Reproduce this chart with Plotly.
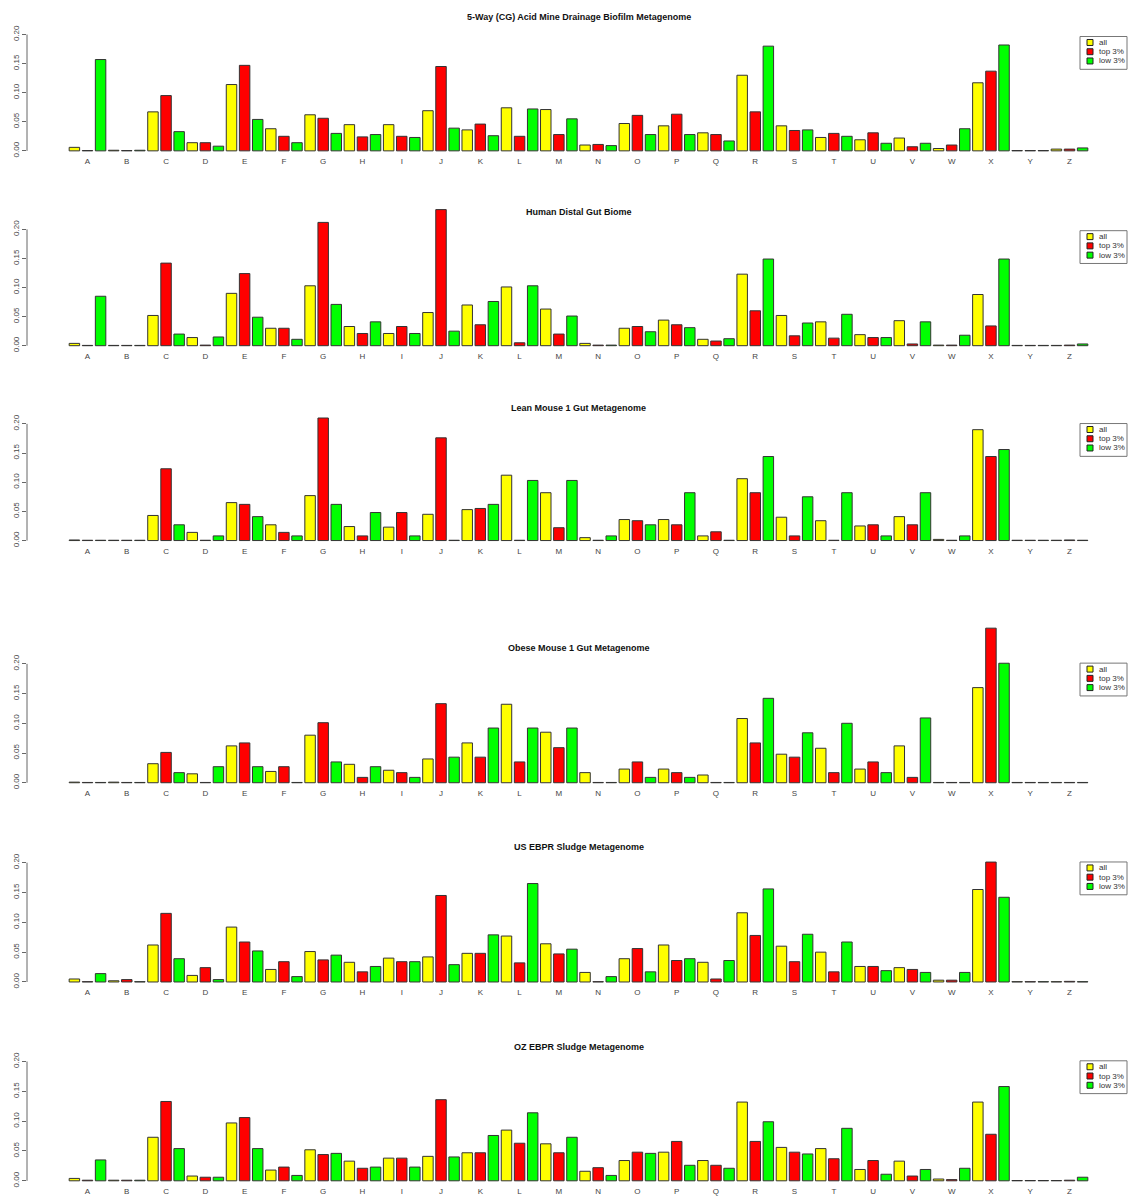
import plotly.graph_objects as go

W, H = 1131, 1202
letters = list("ABCDEFGHIJKLMNOPQRSTUVWXYZ")
series_names = ["all", "top 3%", "low 3%"]
series_colors = ["#FFFF00", "#FF0000", "#00FF00"]

titles = [
    "5-Way (CG) Acid Mine Drainage Biofilm Metagenome",
    "Human Distal Gut Biome",
    "Lean Mouse 1 Gut Metagenome",
    "Obese Mouse 1 Gut Metagenome",
    "US EBPR Sludge Metagenome",
    "OZ EBPR Sludge Metagenome",
]

amd_all = [.006, .001, .067, .014, .114, .038, .062, .045, .045, .069, .036, .074, .071, .010, .047, .043, .031, .130, .043, .023, .019, .022, .004, .117, .0005, .003]
amd_top = [.0005, .0005, .095, .014, .147, .025, .056, .024, .025, .145, .046, .025, .028, .011, .061, .063, .028, .067, .035, .030, .031, .007, .010, .137, .0005, .003]
amd_low = [.157, .001, .033, .008, .054, .014, .030, .028, .023, .039, .026, .072, .055, .009, .028, .028, .017, .180, .036, .025, .013, .013, .038, .182, .0005, .005]

hdg_all = [.004, .0005, .052, .014, .090, .030, .103, .033, .021, .057, .070, .101, .063, .004, .030, .044, .011, .123, .052, .041, .019, .043, .001, .088, .0005, .0005]
hdg_top = [.0005, .0005, .142, .001, .124, .030, .212, .021, .033, .234, .036, .005, .020, .001, .033, .036, .008, .060, .017, .013, .014, .003, .001, .034, .0005, .001]
hdg_low = [.085, .0005, .020, .015, .049, .011, .071, .041, .021, .025, .076, .103, .051, .001, .024, .031, .012, .149, .039, .054, .014, .041, .018, .149, .0005, .003]

lean_all = [.001, .0005, .043, .014, .065, .027, .077, .024, .023, .045, .053, .112, .082, .005, .036, .036, .008, .106, .040, .034, .025, .041, .002, .190, .0005, .0005]
lean_top = [.0005, .0005, .123, .0005, .062, .014, .210, .008, .048, .176, .055, .0005, .022, .0005, .034, .027, .015, .082, .008, .0005, .027, .027, .0005, .144, .0005, .001]
lean_low = [.0005, .0005, .027, .008, .041, .008, .062, .048, .008, .0005, .062, .103, .103, .008, .027, .082, .0005, .144, .075, .082, .008, .082, .008, .156, .0005, .0005]

obese_all = [.001, .001, .032, .015, .062, .019, .080, .031, .021, .040, .067, .132, .085, .017, .023, .023, .013, .108, .048, .058, .023, .062, .0005, .160, .0005, .0005]
obese_top = [.0005, .0005, .051, .0005, .067, .027, .101, .009, .017, .133, .043, .035, .059, .0005, .035, .017, .0005, .067, .043, .017, .035, .009, .0005, .260, .0005, .0005]
obese_low = [.0005, .0005, .017, .027, .027, .0005, .035, .027, .009, .043, .092, .092, .092, .0005, .009, .009, .0005, .142, .084, .100, .017, .109, .0005, .201, .0005, .0005]

us_all = [.005, .002, .062, .011, .092, .021, .051, .033, .040, .042, .048, .077, .064, .016, .039, .062, .033, .116, .060, .050, .026, .024, .003, .155, .0005, .0005]
us_top = [.0005, .004, .115, .024, .067, .034, .037, .017, .034, .145, .048, .032, .047, .0005, .056, .036, .005, .078, .034, .017, .026, .021, .003, .201, .0005, .001]
us_low = [.014, .0005, .039, .004, .052, .009, .045, .026, .034, .029, .079, .165, .055, .009, .017, .039, .036, .156, .080, .067, .019, .016, .016, .142, .0005, .0005]

oz_all = [.004, .001, .073, .008, .097, .018, .052, .033, .038, .041, .047, .085, .062, .016, .034, .048, .034, .132, .056, .054, .019, .033, .003, .132, .0005, .0005]
oz_top = [.001, .001, .133, .006, .106, .023, .044, .021, .038, .136, .047, .063, .047, .022, .048, .066, .026, .066, .048, .037, .034, .008, .002, .078, .0005, .001]
oz_low = [.035, .001, .054, .006, .054, .009, .046, .023, .023, .040, .076, .114, .073, .009, .046, .026, .021, .099, .045, .088, .011, .019, .021, .158, .0005, .006]

panels = [
    (amd_all, amd_top, amd_low),
    (hdg_all, hdg_top, hdg_low),
    (lean_all, lean_top, lean_low),
    (obese_all, obese_top, obese_low),
    (us_all, us_top, us_low),
    (oz_all, oz_top, oz_low),
]

y_ticks = [0.0, 0.05, 0.10, 0.15, 0.20]
y_ticktext = ["0.00", "0.05", "0.10", "0.15", "0.20"]

# layout geometry in pixels: (zero line y, px per 0.2, domain top, title y, legend top)
geom = [
    (147.7, 117.0, 25, 13.0, 32.7),
    (343.7, 117.0, 200, 209.0, 228.0),
    (539.7, 117.4, 415, 406.0, 422.0),
    (783.3, 119.6, 620, 648.0, 663.0),
    (983.7, 120.0, 855, 848.0, 863.0),
    (1183.7, 120.0, 1055, 1048.7, 1063.0),
]

def py(p):
    return 1 - p / H

def px(p):
    return p / W

fig = go.Figure()
layout = dict(
    width=W, height=H, margin=dict(l=0, r=0, t=0, b=0),
    paper_bgcolor="white", plot_bgcolor="white",
    barmode="group", bargap=0.0, bargroupgap=0.2,
    showlegend=False,
    font=dict(family="Liberation Sans, Arial, sans-serif", size=8, color="#444"),
)
shapes = []
annotations = []
axis_color = "#666"

x_left, x_right = 27, 1130
for i, (vals, (y0, s, top, ty, ly)) in enumerate(zip(panels, geom)):
    n = "" if i == 0 else str(i + 1)
    xa, ya = "x" + n, "y" + n
    for name, color, v in zip(series_names, series_colors, vals):
        fig.add_trace(go.Bar(
            x=letters, y=v, name=name, xaxis=xa, yaxis=ya,
            marker=dict(color=color, line=dict(color="#333", width=1)),
            showlegend=False,
        ))
    k = s / 0.2
    bottom = y0 + 4
    yr = [-(bottom - y0) / k, (y0 - top) / k]
    layout["xaxis" + n] = dict(
        domain=[px(x_left), px(x_right)], anchor=ya,
        type="category", range=[-1.54, 26.54],
        showgrid=False, zeroline=False, showline=False,
        ticks="",
        tickfont=dict(size=8, color="#444"), fixedrange=True,
    )
    layout["yaxis" + n] = dict(
        domain=[py(bottom), py(top)], anchor=xa, range=yr,
        showgrid=False, zeroline=False, showline=False,
        tickvals=y_ticks, ticktext=y_ticktext, tickangle=-90,
        ticks="outside", ticklen=4, tickcolor=axis_color,
        tickfont=dict(size=8, color="#444"), fixedrange=True,
    )
    shapes.append(dict(type="line", xref=xa + " domain", yref=ya,
                       x0=0, x1=0, y0=0, y1=0.2,
                       line=dict(color=axis_color, width=1)))
    annotations.append(dict(text="<b>" + titles[i] + "</b>", xref="paper", yref="paper",
                            x=px((x_left + x_right) / 2), y=py(ty), showarrow=False,
                            xanchor="center", yanchor="middle",
                            font=dict(size=9, color="#111")))
    # legend box
    bx0, bx1 = 1080, 1127
    shapes.append(dict(type="rect", xref="paper", yref="paper",
                       x0=px(bx0), x1=px(bx1), y0=py(ly + 33), y1=py(ly),
                       line=dict(color="#777", width=1), fillcolor="white"))
    for j, (name, color) in enumerate(zip(series_names, series_colors)):
        cy = ly + 6 + j * 9.3
        shapes.append(dict(type="rect", xref="paper", yref="paper",
                           x0=px(1087), x1=px(1093), y0=py(cy + 3), y1=py(cy - 3),
                           line=dict(color="#222", width=1), fillcolor=color))
        annotations.append(dict(text=name, xref="paper", yref="paper",
                                x=px(1097), y=py(cy), showarrow=False,
                                xanchor="left", yanchor="middle",
                                font=dict(size=8, color="#333")))

layout["shapes"] = shapes
layout["annotations"] = annotations
fig.update_layout(**layout)
fig.write_html(
    "out.html",
    config={"displayModeBar": False},
    post_script="document.body.style.margin='0';document.body.style.padding='0';"
                "document.body.style.overflow='hidden';"
                "document.documentElement.style.overflow='hidden';",
)
